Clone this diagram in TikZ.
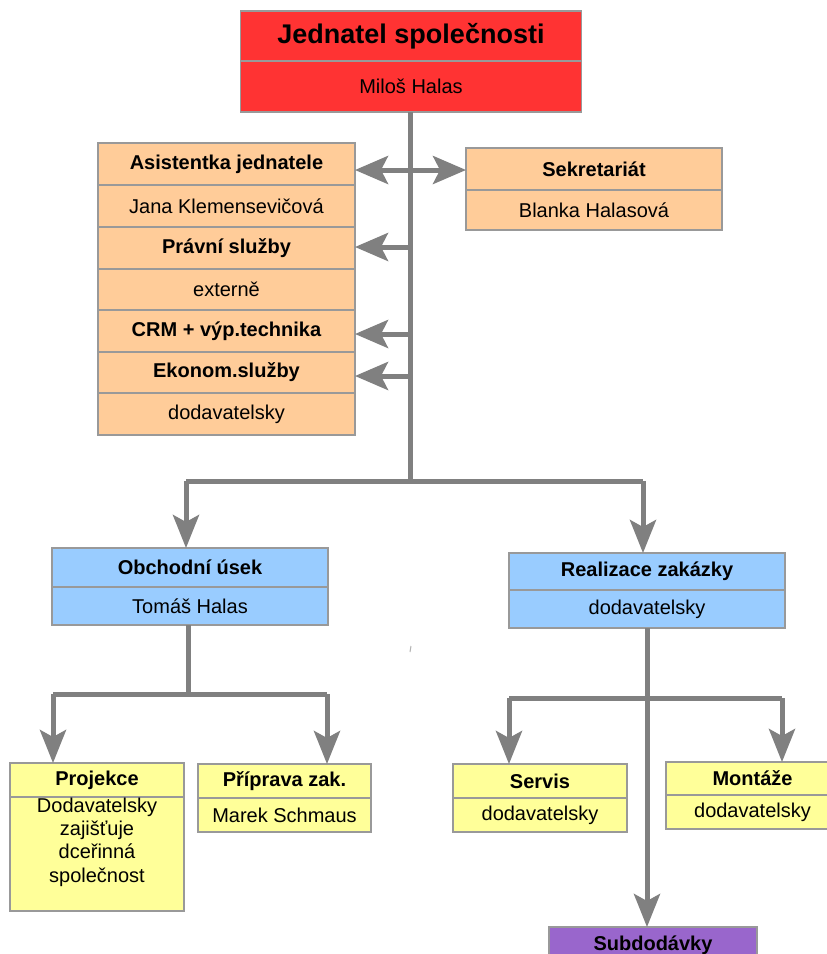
\documentclass[tikz,border=0pt]{standalone}
\usepackage{fontspec}
\setmainfont{Liberation Sans}
\usetikzlibrary{arrows.meta}
\definecolor{cred}{HTML}{FF3333}
\definecolor{corange}{HTML}{FFCC99}
\definecolor{cblue}{HTML}{99CCFF}
\definecolor{cyellow}{HTML}{FFFF99}
\definecolor{cpurple}{HTML}{9966CC}
\definecolor{cborder}{HTML}{999999}
\definecolor{cline}{HTML}{808080}
\begin{document}
\begin{tikzpicture}[x=1pt,y=1pt,
  cell/.style={draw=cborder, line width=1.2pt, inner sep=0pt, outer sep=0pt, anchor=center,
    font=\fontsize{20}{23.3}\selectfont, text=black},
  hd/.style={cell, font=\fontsize{20}{23.3}\selectfont\bfseries},
  conn/.style={draw=cline, line width=5pt},
  tip/.style={-{Stealth[length=33pt, width=26pt, inset=7pt]}},
  dtip/.style={{Stealth[length=33pt, width=28pt, inset=7pt]}-{Stealth[length=33pt, width=28pt, inset=7pt]}},
  ltip/.style={-{Stealth[length=33pt, width=28pt, inset=7pt]}}
]
\useasboundingbox (0,0) rectangle (827,-954);
\clip (0,0) rectangle (827,-954);
\fill[white] (0,0) rectangle (827,-954);

% top
\node[hd, fill=cred, minimum width=341, minimum height=51, font=\fontsize{27}{30}\selectfont\bfseries] (jedA) at (411,-36.5) {Jednatel společnosti};
\node[cell, fill=cred, minimum width=341, minimum height=51] (jedB) at (411,-86.5) {Miloš Halas};

% left stack
\node[hd, fill=corange, minimum width=257, minimum height=42] (r1) at (226.5,-164) {Asistentka jednatele};
\node[cell, fill=corange, minimum width=257, minimum height=42] (r2) at (226.5,-206) {Jana Klemensevičová};
\node[hd, fill=corange, minimum width=257, minimum height=42] (r3) at (226.5,-248) {Právní služby};
\node[cell, fill=corange, minimum width=257, minimum height=41] (r4) at (226.5,-289.5) {externě};
\node[hd, fill=corange, minimum width=257, minimum height=42] (r5) at (226.5,-331) {CRM + výp.technika};
\node[hd, fill=corange, minimum width=257, minimum height=41] (r6) at (226.5,-372.5) {Ekonom.služby};
\node[cell, fill=corange, minimum width=257, minimum height=42] (r7) at (226.5,-414) {dodavatelsky};

% secretariat
\node[hd, fill=corange, minimum width=256, minimum height=42] (s1) at (594,-169) {Sekretariát};
\node[cell, fill=corange, minimum width=256, minimum height=40] (s2) at (594,-210) {Blanka Halasová};

% second level
\node[hd, fill=cblue, minimum width=276, minimum height=39] (o1) at (190,-567.5) {Obchodní úsek};
\node[cell, fill=cblue, minimum width=276, minimum height=38] (o2) at (190,-606) {Tomáš Halas};
\node[hd, fill=cblue, minimum width=276, minimum height=37] (z1) at (647,-571.5) {Realizace zakázky};
\node[cell, fill=cblue, minimum width=276, minimum height=38] (z2) at (647,-609) {dodavatelsky};

% third level
\node[hd, fill=cyellow, minimum width=174, minimum height=34] (p1) at (97,-780) {Projekce};
\node[cell, fill=cyellow, minimum width=174, minimum height=114] (p2) at (97,-854) {};
\node[font=\fontsize{20}{23.3}\selectfont, align=center, inner sep=0pt] (p2t) at (97,-842) {Dodavatelsky\\zajišťuje\\dceřinná\\společnost};
\node[hd, fill=cyellow, minimum width=173, minimum height=34] (q1) at (284.5,-781) {Příprava zak.};
\node[cell, fill=cyellow, minimum width=173, minimum height=34] (q2) at (284.5,-815) {Marek Schmaus};
\node[hd, fill=cyellow, minimum width=174, minimum height=34] (v1) at (540,-781) {Servis};
\node[cell, fill=cyellow, minimum width=174, minimum height=34] (v2) at (540,-815) {dodavatelsky};
\node[hd, fill=cyellow, minimum width=173, minimum height=33] (m1) at (752.5,-778.5) {Montáže};
\node[cell, fill=cyellow, minimum width=173, minimum height=34] (m2) at (752.5,-812) {dodavatelsky};
\node[hd, fill=cpurple, minimum width=208, minimum height=36] (sub) at (653,-945) {Subdodávky};

% trunk and side arrows
\coordinate (hub) at (410,-481);
\coordinate (a1) at (410,-170);
\coordinate (a3) at (410,-247);
\coordinate (a5) at (410,-334);
\coordinate (a6) at (410,-376);
\draw[conn] (jedB.south -| hub) -- (hub);
\draw[conn, dtip] (r1.east |- a1) -- (s1.west |- a1);
\draw[conn, ltip] (a3) -- (r3.east |- a3);
\draw[conn, ltip] (a5) -- (r5.east |- a5);
\draw[conn, ltip] (a6) -- (r6.east |- a6);

% branch to second level
\coordinate (bl) at (186,-481);
\coordinate (br) at (643,-481);
\draw[conn] (bl) -- (br);
\draw[conn, tip] (bl) -- (bl |- o1.north);
\draw[conn, tip] (br) -- (br |- z1.north);

% obchodni branch
\coordinate (ob) at (188,-694);
\coordinate (obl) at (53,-694);
\coordinate (obr) at (327,-694);
\draw[conn] (o2.south -| ob) -- (ob);
\draw[conn] (obl) -- (obr);
\draw[conn, tip] (obl) -- (obl |- p1.north);
\draw[conn, tip] (obr) -- (obr |- q1.north);

% realizace branch
\coordinate (rb) at (647,-698);
\coordinate (rbl) at (509,-698);
\coordinate (rbr) at (782,-698);
\draw[conn, tip] (z2.south -| rb) -- (rb |- sub.north);
\draw[conn] (rbl) -- (rbr);
\draw[conn, tip] (rbl) -- (rbl |- v1.north);
\draw[conn, tip] (rbr) -- (rbr |- m1.north);

% stray mark
\coordinate (sm1) at (411,-646);
\coordinate (sm2) at (410,-652);
\draw[cline!60, line width=1pt] (sm1) -- (sm2);
\end{tikzpicture}
\end{document}
